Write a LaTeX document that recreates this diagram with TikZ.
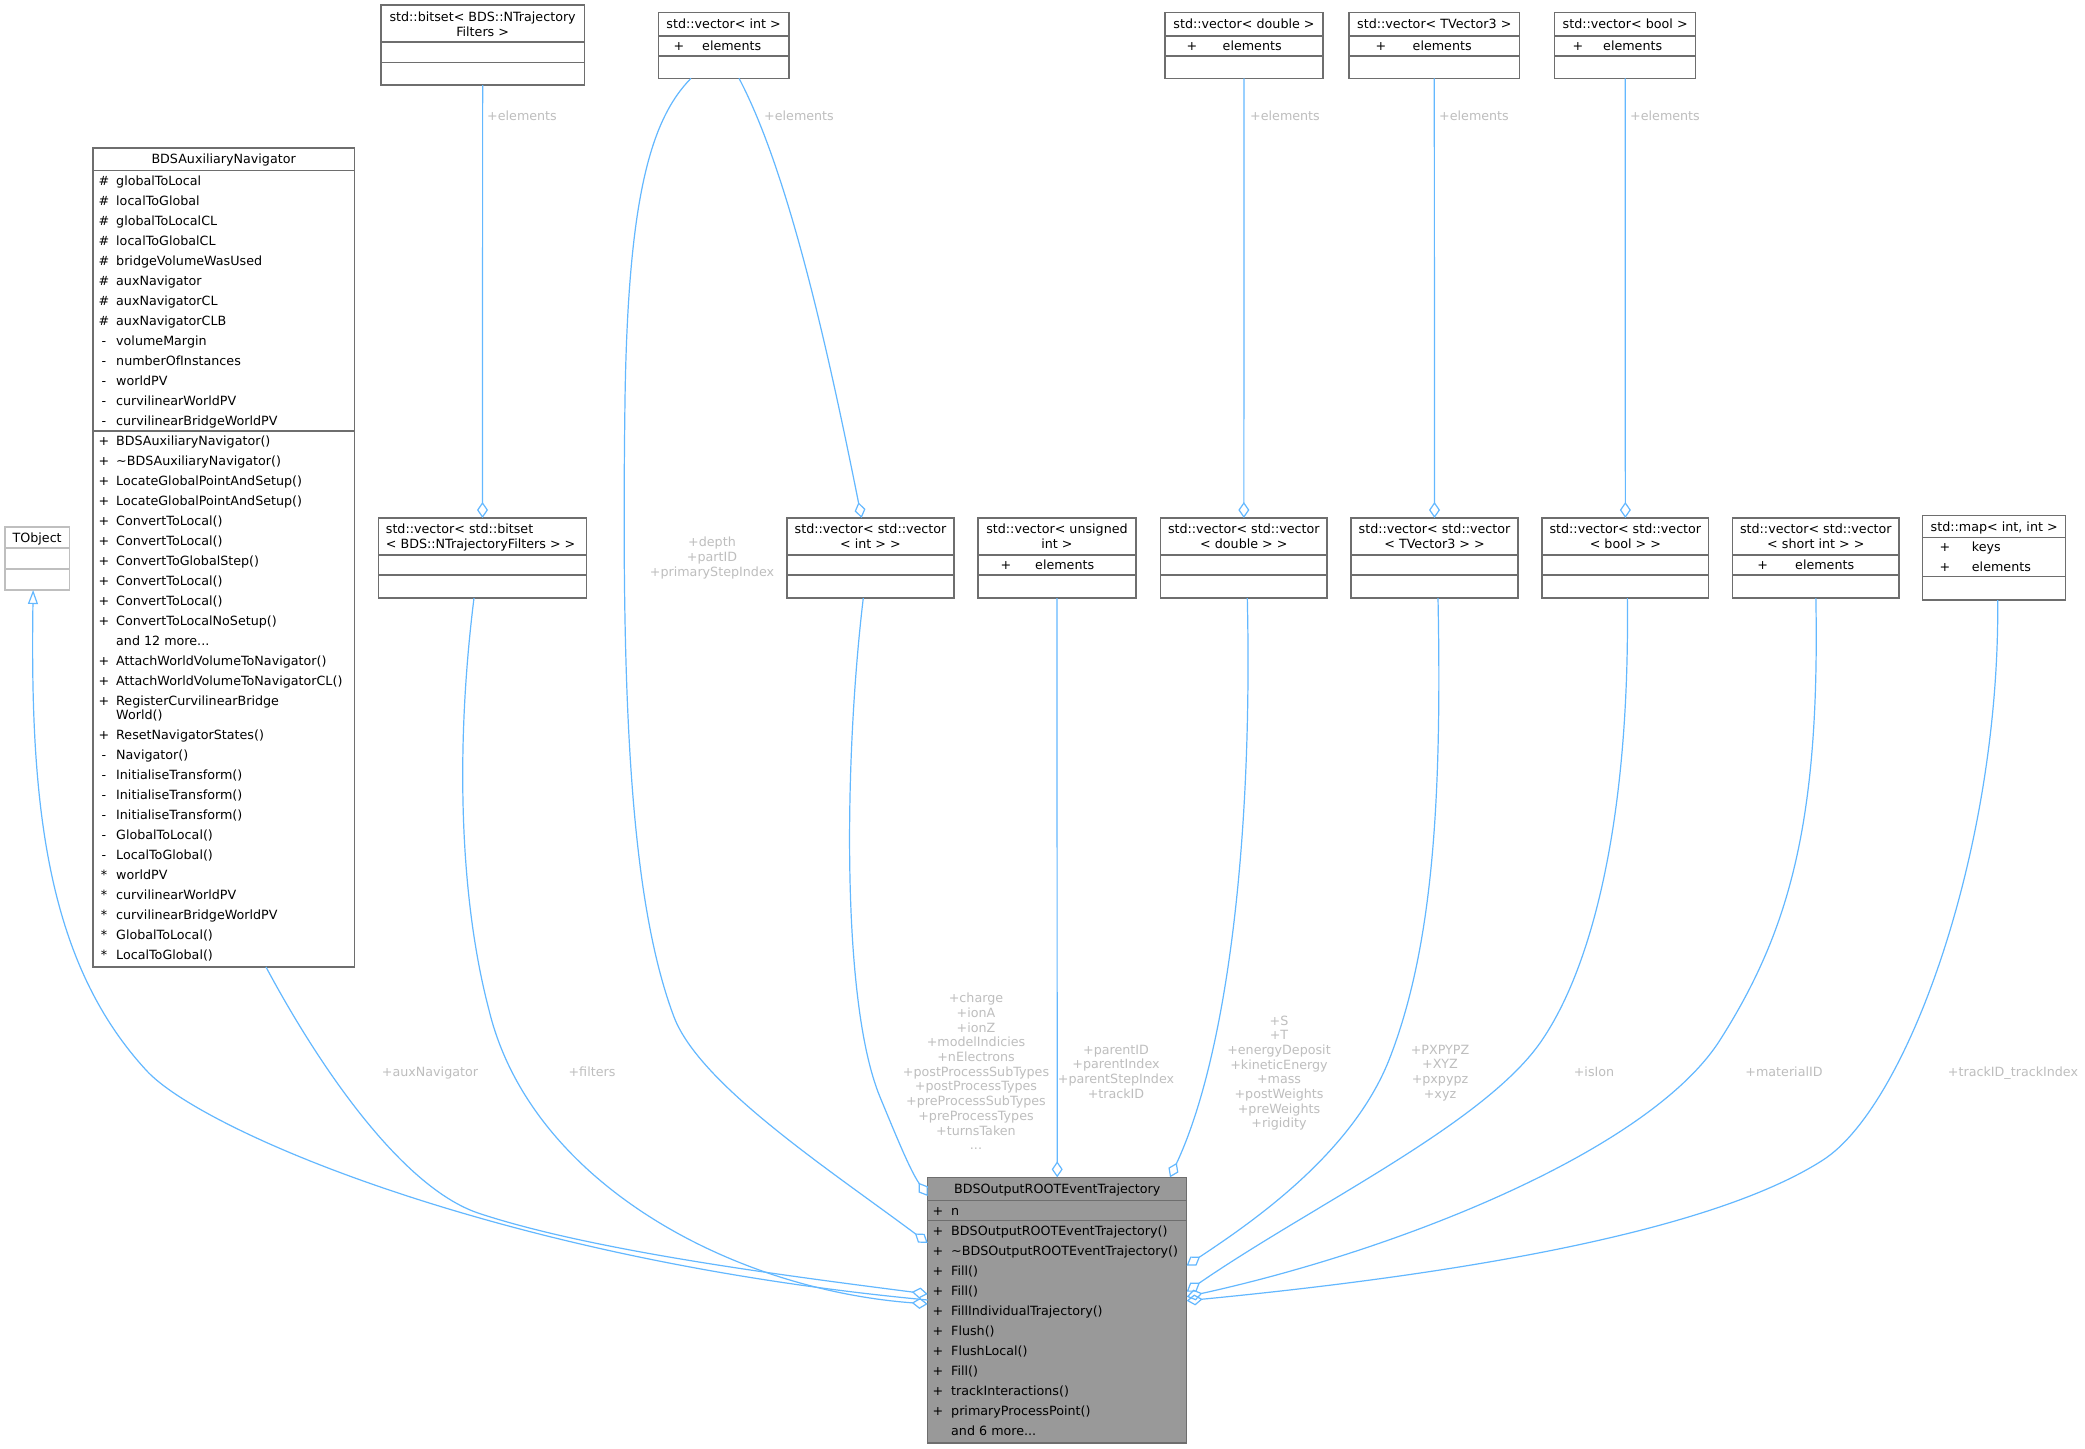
\documentclass[tikz,border=0pt]{standalone}
\usepackage{fontspec}
\setmainfont{DejaVu Sans}
\usetikzlibrary{arrows.meta}
\definecolor{edgeblue}{HTML}{63B8FF}
\definecolor{boxgray}{HTML}{6E6E6E}
\definecolor{lblgray}{HTML}{BEBEBE}
\definecolor{extgray}{HTML}{BFBFBF}
\definecolor{mainfill}{HTML}{999999}
\newcommand\rowst{\rule{0pt}{10pt}}
\begin{document}
\begin{tikzpicture}[x=1pt,y=-1pt,
  font=\fontsize{12.7}{20}\selectfont,
  box/.style={draw=boxgray, line width=1.1pt, fill=white, rectangle, inner sep=0pt, outer sep=0pt, anchor=north west},
  sep/.style={draw=boxgray, line width=1.1pt},
  txt/.style={inner sep=0pt, anchor=base west},
  ctxt/.style={inner sep=0pt, anchor=base},
  col/.style={inner sep=0pt, anchor=north west, align=left},
  symcol/.style={inner sep=0pt, anchor=north, align=center},
  hdr/.style={inner sep=0pt, anchor=north, align=center, font=\fontsize{12.7}{15}\selectfont},
  lbl/.style={inner sep=0pt, text=lblgray, font=\fontsize{12.7}{14.7}\selectfont},
  edge/.style={draw=edgeblue, line width=1.2pt},
  agg/.style={edge, -{Diamond[open, length=16pt, width=11pt]}},
  inh/.style={edge, {Triangle[open, length=14pt, width=10pt]}-},
]
\fill[white] (0,0) rectangle (2085,1448);
\useasboundingbox (0,0) rectangle (2085,1448);

% ---------- TObject ----------
\node[box, draw=extgray, minimum width=64.3pt, minimum height=63pt] (tobj) at (5,527) {};
\draw[sep, draw=extgray] (5,548) -- (69.3,548);
\draw[sep, draw=extgray] (5,569) -- (69.3,569);
\node[ctxt] (tobjh) at (37.15,542) {TObject};

% ---------- BDSAuxiliaryNavigator ----------
\node[box, minimum width=261.3pt, minimum height=819pt] (aux) at (93,148) {};
\draw[sep] (93,170.6) -- (354.3,170.6);
\draw[sep] (93,431) -- (354.3,431);
\node[ctxt] (auxh) at (223.65,163.8) {BDSAuxiliaryNavigator};
\node[symcol] (auxas) at (104,175.1) {\rowst\#\\\#\\\#\\\#\\\#\\\#\\\#\\\#\\-\\-\\-\\-\\-};
\node[col] (auxa) at (116,175.1) {\rowst globalToLocal\\localToGlobal\\globalToLocalCL\\localToGlobalCL\\bridgeVolumeWasUsed\\auxNavigator\\auxNavigatorCL\\auxNavigatorCLB\\volumeMargin\\numberOfInstances\\worldPV\\curvilinearWorldPV\\curvilinearBridgeWorldPV};
\node[symcol] (auxms) at (104,435.5) {\rowst+\\+\\+\\+\\+\\+\\+\\+\\+\\+\\\rowst\\+\\+\\+\\[-6.5pt]\rowst\\+\\-\\-\\-\\-\\-\\-\\{}*\\{}*\\{}*\\{}*\\{}*};
\node[col] (auxm) at (116,435.5) {\rowst BDSAuxiliaryNavigator()\\
\textasciitilde BDSAuxiliaryNavigator()\\
LocateGlobalPointAndSetup()\\
LocateGlobalPointAndSetup()\\
ConvertToLocal()\\
ConvertToLocal()\\
ConvertToGlobalStep()\\
ConvertToLocal()\\
ConvertToLocal()\\
ConvertToLocalNoSetup()\\
and 12 more...\\
AttachWorldVolumeToNavigator()\\
AttachWorldVolumeToNavigatorCL()\\
RegisterCurvilinearBridge\\[-6.5pt]
World()\\
ResetNavigatorStates()\\
Navigator()\\
InitialiseTransform()\\
InitialiseTransform()\\
InitialiseTransform()\\
GlobalToLocal()\\
LocalToGlobal()\\
worldPV\\
curvilinearWorldPV\\
curvilinearBridgeWorldPV\\
GlobalToLocal()\\
LocalToGlobal()};

% ---------- top row ----------
\node[box, minimum width=203.3pt, minimum height=80pt] (bits) at (381,5) {};
\draw[sep] (381,42) -- (584.3,42);
\draw[sep] (381,62.5) -- (584.3,62.5);
\node[hdr] (bitsh) at (482.65,11.1) {\rowst std::bitset< BDS::NTrajectory\\Filters >};

\node[box, minimum width=130.7pt, minimum height=65.7pt] (vint) at (658.3,12.6) {};
\draw[sep] (658.3,36) -- (789,36);
\draw[sep] (658.3,56) -- (789,56);
\node[ctxt] (vinth) at (723.65,28.8) {std::vector< int >};
\node[ctxt] (vints) at (679,50.5) {+};
\node[txt] (vinta) at (702,50.5) {elements};

\node[box, minimum width=158pt, minimum height=65.7pt] (vdbl) at (1165,12.6) {};
\draw[sep] (1165,36) -- (1323,36);
\draw[sep] (1165,56) -- (1323,56);
\node[ctxt] (vdblh) at (1244,28.8) {std::vector< double >};
\node[ctxt] (vdbls) at (1192,50.5) {+};
\node[txt] (vdbla) at (1222.5,50.5) {elements};

\node[box, minimum width=170.6pt, minimum height=65.7pt] (vtv3) at (1349,12.6) {};
\draw[sep] (1349,36) -- (1519.6,36);
\draw[sep] (1349,56) -- (1519.6,56);
\node[ctxt] (vtv3h) at (1434.3,28.8) {std::vector< TVector3 >};
\node[ctxt] (vtv3s) at (1381,50.5) {+};
\node[txt] (vtv3a) at (1412.5,50.5) {elements};

\node[box, minimum width=141.1pt, minimum height=65.7pt] (vbool) at (1554.6,12.6) {};
\draw[sep] (1554.6,36) -- (1695.7,36);
\draw[sep] (1554.6,56) -- (1695.7,56);
\node[ctxt] (vboolh) at (1625.15,28.8) {std::vector< bool >};
\node[ctxt] (vbools) at (1578,50.5) {+};
\node[txt] (vboola) at (1603,50.5) {elements};

% ---------- middle row ----------
\node[box, minimum width=208.4pt, minimum height=80pt] (vbits) at (378.3,518) {};
\draw[sep] (378.3,555) -- (586.7,555);
\draw[sep] (378.3,575) -- (586.7,575);
\node[inner sep=0pt, anchor=north west, align=left, font=\fontsize{12.7}{15}\selectfont] (vbitsh) at (385.7,523.5) {\rowst std::vector< std::bitset\\< BDS::NTrajectoryFilters > >};

\node[box, minimum width=167pt, minimum height=80pt] (vvint) at (787,518) {};
\draw[sep] (787,555) -- (954,555);
\draw[sep] (787,575) -- (954,575);
\node[hdr] (vvinth) at (870.5,523.5) {\rowst std::vector< std::vector\\< int > >};

\node[box, minimum width=158pt, minimum height=80pt] (vuint) at (978,518) {};
\draw[sep] (978,555) -- (1136,555);
\draw[sep] (978,575) -- (1136,575);
\node[hdr] (vuinth) at (1057,523.5) {\rowst std::vector< unsigned\\int >};
\node[ctxt] (vuints) at (1006,569.5) {+};
\node[txt] (vuinta) at (1035,569.5) {elements};

\node[box, minimum width=166.3pt, minimum height=80pt] (vvdbl) at (1160.7,518) {};
\draw[sep] (1160.7,555) -- (1327,555);
\draw[sep] (1160.7,575) -- (1327,575);
\node[hdr] (vvdblh) at (1243.85,523.5) {\rowst std::vector< std::vector\\< double > >};

\node[box, minimum width=167pt, minimum height=80pt] (vvtv3) at (1351,518) {};
\draw[sep] (1351,555) -- (1518,555);
\draw[sep] (1351,575) -- (1518,575);
\node[hdr] (vvtv3h) at (1434.5,523.5) {\rowst std::vector< std::vector\\< TVector3 > >};

\node[box, minimum width=166.7pt, minimum height=80pt] (vvbool) at (1542,518) {};
\draw[sep] (1542,555) -- (1708.7,555);
\draw[sep] (1542,575) -- (1708.7,575);
\node[hdr] (vvboolh) at (1625.35,523.5) {\rowst std::vector< std::vector\\< bool > >};

\node[box, minimum width=166.3pt, minimum height=80pt] (vvshort) at (1732.7,518) {};
\draw[sep] (1732.7,555) -- (1899,555);
\draw[sep] (1732.7,575) -- (1899,575);
\node[hdr] (vvshorth) at (1815.85,523.5) {\rowst std::vector< std::vector\\< short int > >};
\node[ctxt] (vvshorts) at (1762.7,569.5) {+};
\node[txt] (vvshorta) at (1795,569.5) {elements};

\node[box, minimum width=143pt, minimum height=84.3pt] (map) at (1922.7,515.7) {};
\draw[sep] (1922.7,537.7) -- (2065.7,537.7);
\draw[sep] (1922.7,576.7) -- (2065.7,576.7);
\node[ctxt] (maph) at (1994.2,531.2) {std::map< int, int >};
\node[ctxt] (maps1) at (1945,551.5) {+};
\node[txt] (mapa1) at (1971.7,551.5) {keys};
\node[ctxt] (maps2) at (1945,571.2) {+};
\node[txt] (mapa2) at (1971.7,571.2) {elements};

% ---------- main class ----------
\node[box, fill=mainfill, minimum width=259pt, minimum height=265.7pt] (main) at (927.7,1177.3) {};
\draw[sep] (927.7,1200.7) -- (1186.7,1200.7);
\draw[sep] (927.7,1220.7) -- (1186.7,1220.7);
\node[ctxt] (mainh) at (1057.2,1193.5) {BDSOutputROOTEventTrajectory};
\node[ctxt] (mainas) at (938,1215.2) {+};
\node[txt] (maina) at (951,1215.2) {n};
\node[symcol] (mainms) at (938,1225.2) {\rowst+\\+\\+\\+\\+\\+\\+\\+\\+\\+};
\node[col] (mainm) at (951,1225.2) {\rowst BDSOutputROOTEventTrajectory()\\
\textasciitilde BDSOutputROOTEventTrajectory()\\
Fill()\\
Fill()\\
FillIndividualTrajectory()\\
Flush()\\
FlushLocal()\\
Fill()\\
trackInteractions()\\
primaryProcessPoint()\\
and 6 more...};

% ---------- connectors ----------
\draw[inh] ([xshift=-4pt]tobj.south) .. controls (30,800) and (45,960) .. (146,1070)
  .. controls (200,1130) and (500,1260) .. ([yshift=10.15pt]main.west);
\draw[agg] ([xshift=42.35pt]aux.south) .. controls (320,1068) and (402,1187) .. (478,1213)
  .. controls (592,1251) and (788,1276) .. ([yshift=16.15pt]main.west);
\draw[agg] ([xshift=-8.5pt]vbits.south) .. controls (455,750) and (460,900) .. (489,1010)
  .. controls (530,1180) and (728,1289) .. ([yshift=6.15pt]main.west);
\draw[agg] ([xshift=-32.65pt]vint.south) .. controls (650,120) and (628,200) .. (625,400)
  .. controls (621,700) and (630,900) .. (674,1017)
  .. controls (700,1085) and (830,1170) .. ([yshift=67.15pt]main.west);
\draw[agg] ([xshift=15.35pt]vint.south) .. controls (790,175) and (830,360) .. ([xshift=-8.9pt]vvint.north);
\draw[agg] (bits.south) -- (vbits.north);
\draw[agg] ([xshift=-7.2pt]vvint.south) .. controls (845,750) and (840,1000) .. (880,1097)
  .. controls (897,1138) and (910,1170) .. ([yshift=114.15pt]main.west);
\draw[agg] (vuint.south) -- (main.north);
\draw[agg] (vdbl.south) -- (vvdbl.north);
\draw[agg] ([xshift=3.45pt]vvdbl.south) .. controls (1253,850) and (1225,1060) .. ([xshift=112.8pt]main.north);
\draw[agg] (vtv3.south) -- (vvtv3.north);
\draw[agg] ([xshift=3.5pt]vvtv3.south) .. controls (1442,800) and (1433,948) .. (1389,1060)
  .. controls (1352,1153) and (1254,1221) .. ([yshift=44.65pt]main.east);
\draw[agg] (vbool.south) -- (vvbool.north);
\draw[agg] ([xshift=2pt]vvbool.south) .. controls (1630,820) and (1592,969) .. (1540,1043)
  .. controls (1482,1125) and (1311,1206) .. ([yshift=18.45pt]main.east);
\draw[agg] (vvshort.south) .. controls (1820,820) and (1790,930) .. (1720,1040)
  .. controls (1650,1150) and (1400,1250) .. ([yshift=13.45pt]main.east);
\draw[agg] ([xshift=3.5pt]map.south) .. controls (2000,850) and (1907,1106) .. (1823,1160)
  .. controls (1697,1241) and (1400,1280) .. ([yshift=9.45pt]main.east);

% ---------- connector labels ----------
\node[lbl, anchor=base west] (l1) at (487,120.2) {+elements};
\node[lbl, anchor=base west] (l2) at (764,120.2) {+elements};
\node[lbl, anchor=base west] (l3) at (1250,120.2) {+elements};
\node[lbl, anchor=base west] (l4) at (1439,120.2) {+elements};
\node[lbl, anchor=base west] (l5) at (1630,120.2) {+elements};
\node[lbl, anchor=north, align=center] (l6) at (712,536.5) {\rowst+depth\\+partID\\+primaryStepIndex};
\node[lbl, anchor=north, align=center] (l7) at (976,992.5) {\rowst+charge\\+ionA\\+ionZ\\+modelIndicies\\+nElectrons\\+postProcessSubTypes\\+postProcessTypes\\+preProcessSubTypes\\+preProcessTypes\\+turnsTaken\\...};
\node[lbl, anchor=north, align=center] (l8) at (1116,1043.8) {\rowst+parentID\\+parentIndex\\+parentStepIndex\\+trackID};
\node[lbl, anchor=north, align=center] (l9) at (1279,1014.8) {\rowst+S\\+T\\+energyDeposit\\+kineticEnergy\\+mass\\+postWeights\\+preWeights\\+rigidity};
\node[lbl, anchor=north, align=center] (l10) at (1440,1043.8) {\rowst+PXPYPZ\\+XYZ\\+pxpypz\\+xyz};
\node[lbl, anchor=base] (l11) at (430,1076.5) {+auxNavigator};
\node[lbl, anchor=base] (l12) at (592,1076.5) {+filters};
\node[lbl, anchor=base] (l13) at (1594,1076.5) {+isIon};
\node[lbl, anchor=base] (l14) at (1784,1076.5) {+materialID};
\node[lbl, anchor=base] (l15) at (2013,1076.5) {+trackID\_trackIndex};
\end{tikzpicture}
\end{document}
